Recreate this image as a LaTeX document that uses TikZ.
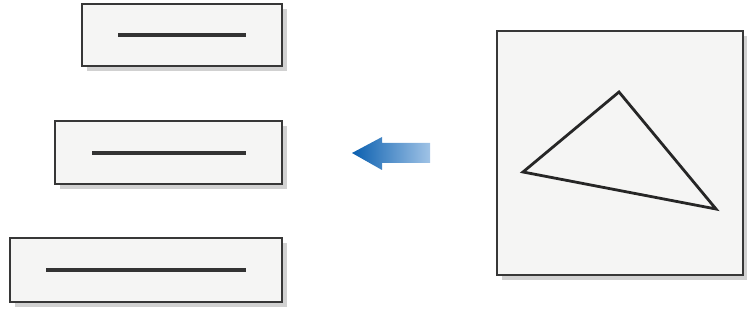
\documentclass[tikz,border=0pt]{standalone}
\usetikzlibrary{shadows}
\definecolor{boxfill}{RGB}{245,245,244}
\definecolor{edge}{RGB}{55,55,55}
\definecolor{arrowdark}{RGB}{10,95,175}
\definecolor{arrowlight}{RGB}{160,195,230}
\tikzset{
  panel/.style={draw=edge, line width=2pt, fill=boxfill, inner sep=0pt,
    drop shadow={shadow xshift=5pt, shadow yshift=-5pt, fill=gray!60, opacity=0.6}},
  bar/.style={draw=black!80, line width=3.2pt},
  tri/.style={draw=black!85, line width=2.8pt, line join=miter}
}
\begin{document}
\begin{tikzpicture}[x=1pt,y=-1pt]
\useasboundingbox (0,0) rectangle (747,320);
% left panels
\node[panel, minimum width=200pt, minimum height=62pt] (b1) at (182,35) {};
\node[panel, minimum width=227pt, minimum height=63pt] (b2) at (168.5,152.5) {};
\node[panel, minimum width=272pt, minimum height=64pt] (b3) at (146,270) {};
\coordinate (b1l) at (118,35); \coordinate (b1r) at (246,35);
\coordinate (b2l) at (92,153);  \coordinate (b2r) at (246,153);
\coordinate (b3l) at (46,270);  \coordinate (b3r) at (246,270);
\draw[bar] (b1l) -- (b1r);
\draw[bar] (b2l) -- (b2r);
\draw[bar] (b3l) -- (b3r);
% right square
\node[panel, minimum width=246pt, minimum height=244pt] (sq) at (620,153) {};
\coordinate (t1) at (619,92);
\coordinate (t2) at (523,172);
\coordinate (t3) at (716,209);
\draw[tri] (t1) -- (t2) -- (t3) -- cycle;
% arrow
\shade[left color=arrowdark, right color=arrowlight]
  (352,153) -- (382,137) -- (382,143) -- (430,143) -- (430,163) -- (382,163) -- (382,170) -- cycle;
\end{tikzpicture}
\end{document}
